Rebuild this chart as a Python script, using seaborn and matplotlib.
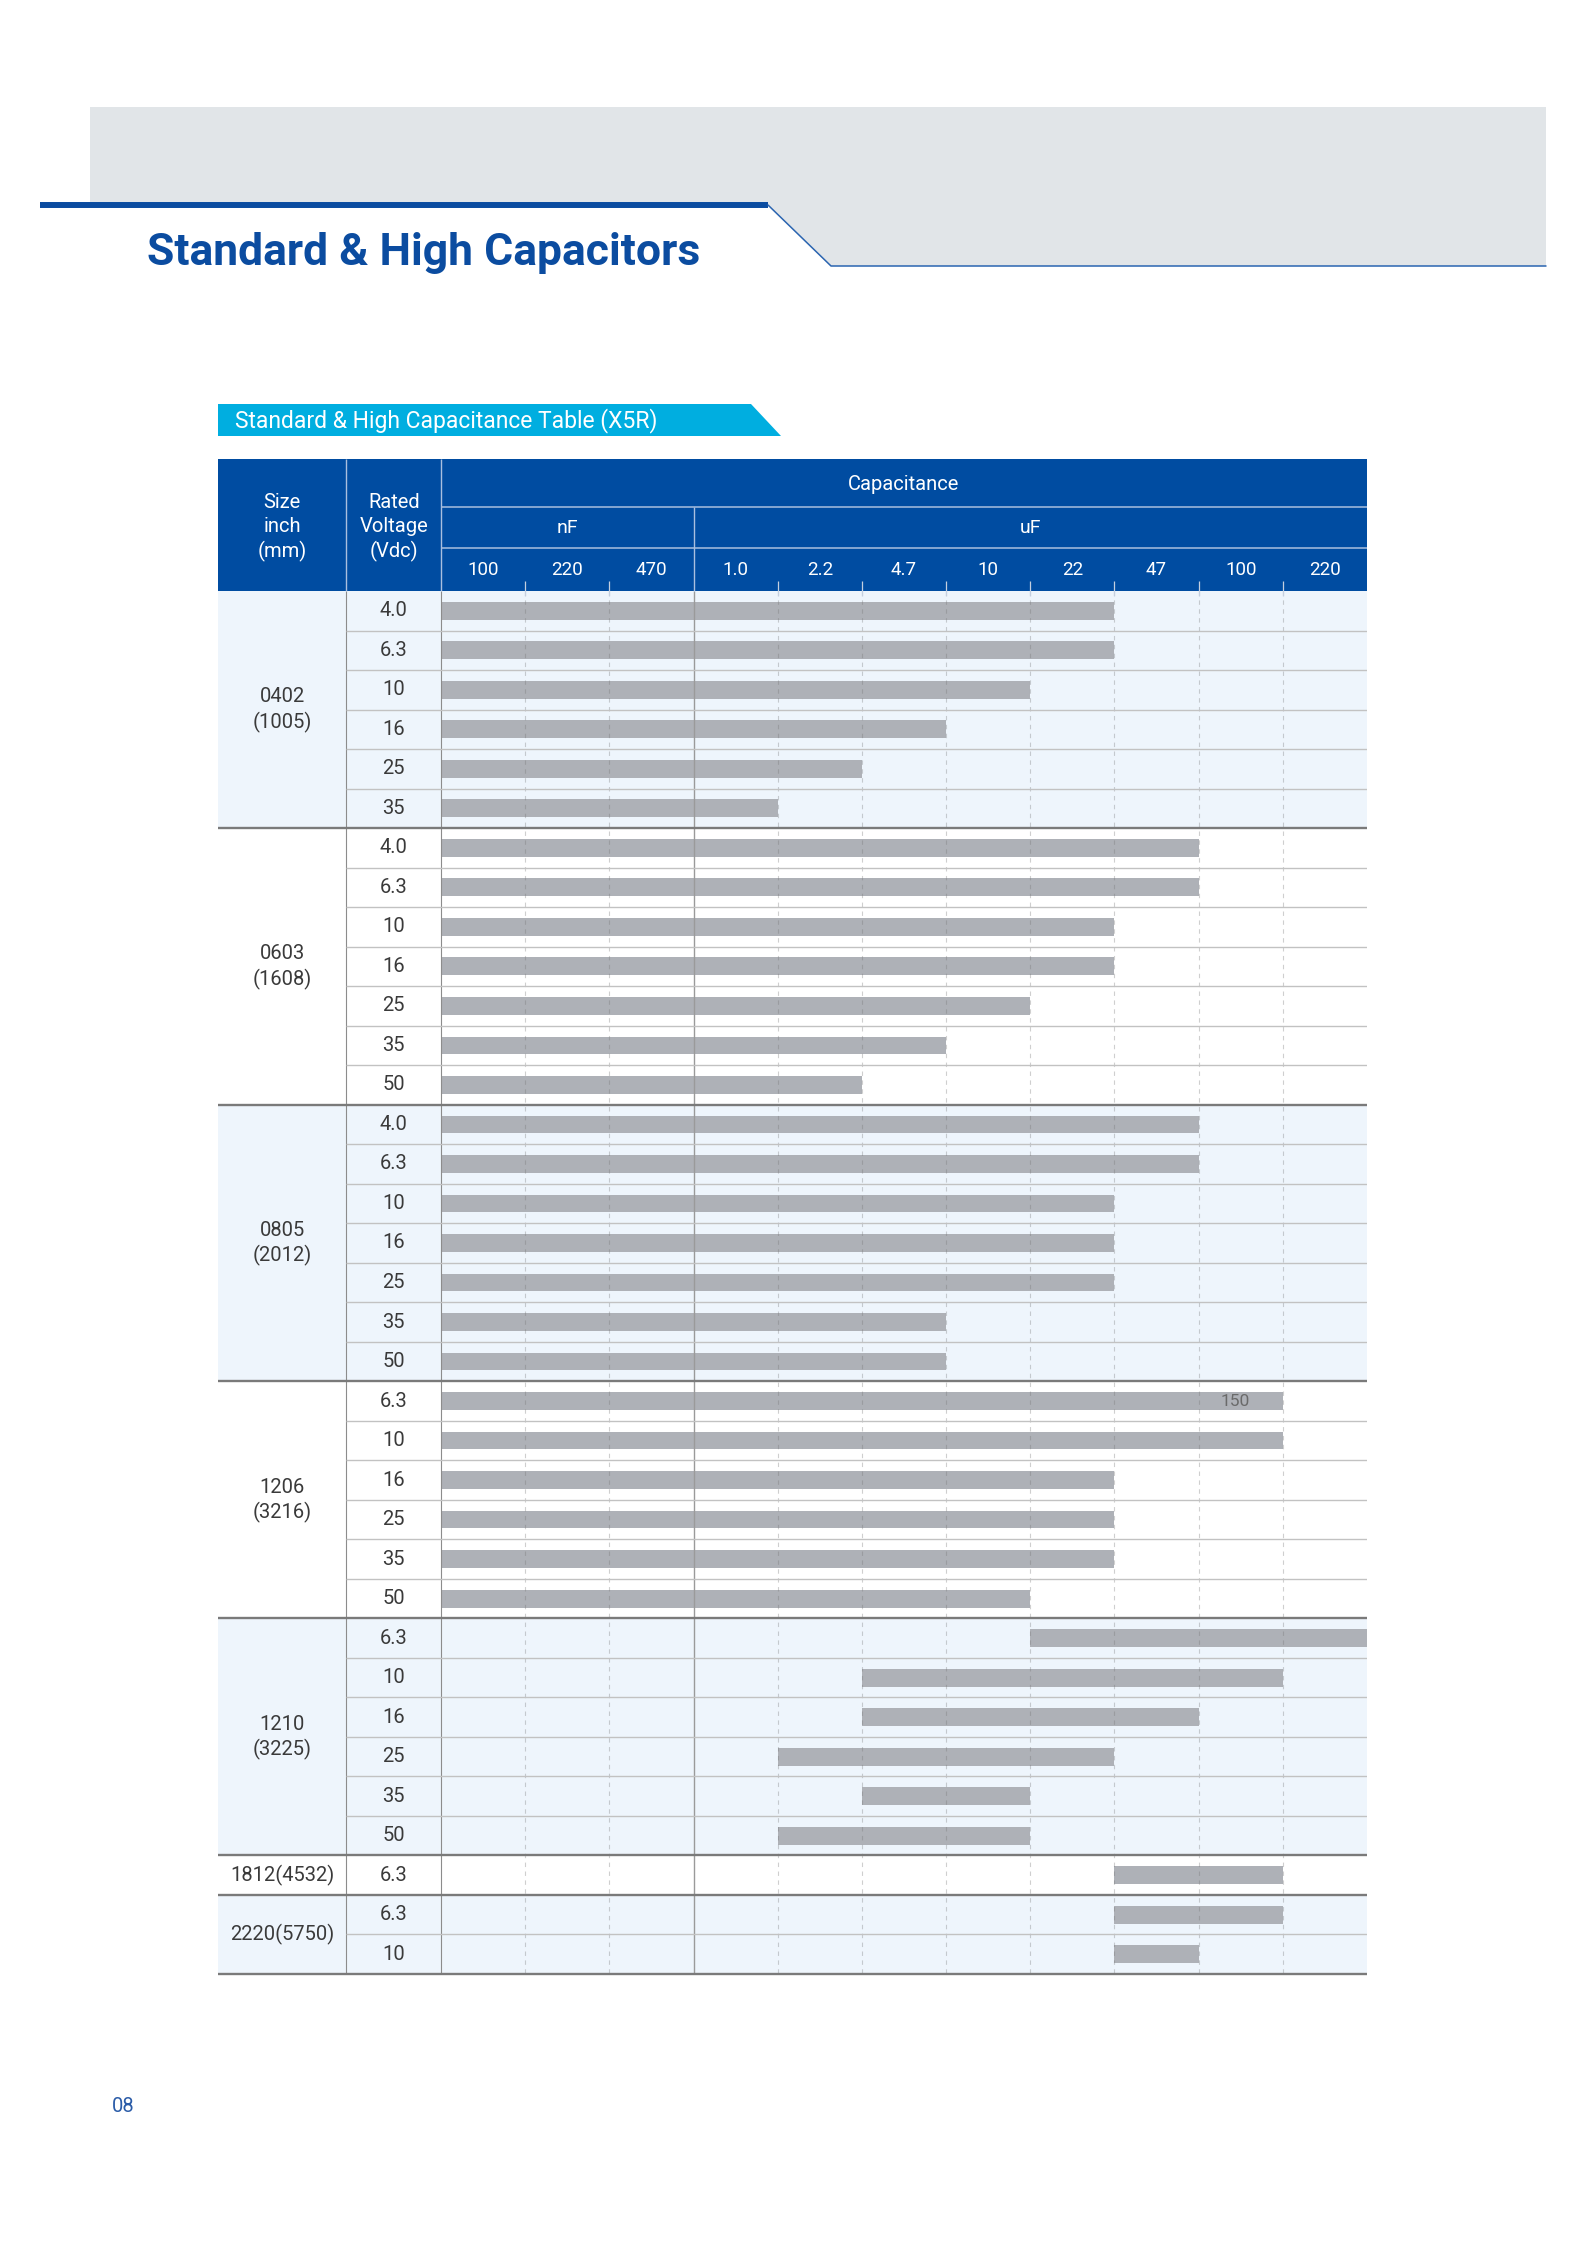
import numpy as np
import pandas as pd
import matplotlib
matplotlib.use("Agg")
import matplotlib.pyplot as plt
from matplotlib import font_manager
from matplotlib.patches import Polygon
import seaborn as sns

# ── data ─────────────────────────────────────────────────────────────────────
CAP_KEYS   = ["100n", "220n", "470n", "1.0u", "2.2u", "4.7u", "10u", "22u", "47u", "100u", "220u"]
CAP_LABELS = ["100", "220", "470", "1.0", "2.2", "4.7", "10", "22", "47", "100", "220"]
UNITS      = ["nF", "uF"]
UNIT_COLS  = [3, 8]

SIZE_LABELS = ["0402\n(1005)", "0603\n(1608)", "0805\n(2012)", "1206\n(3216)",
               "1210\n(3225)", "1812(4532)", "2220(5750)"]
VOLTAGES = [
    ["4.0", "6.3", "10", "16", "25", "35"],
    ["4.0", "6.3", "10", "16", "25", "35", "50"],
    ["4.0", "6.3", "10", "16", "25", "35", "50"],
    ["6.3", "10", "16", "25", "35", "50"],
    ["6.3", "10", "16", "25", "35", "50"],
    ["6.3"],
    ["6.3", "10"],
]
CAP_MIN = [
    ["100n"] * 6,
    ["100n"] * 7,
    ["100n"] * 7,
    ["100n"] * 6,
    ["22u", "4.7u", "4.7u", "2.2u", "4.7u", "2.2u"],
    ["47u"],
    ["47u", "47u"],
]
CAP_MAX = [
    ["22u", "22u", "10u", "4.7u", "2.2u", "1.0u"],
    ["47u", "47u", "22u", "22u", "10u", "4.7u", "2.2u"],
    ["47u", "47u", "22u", "22u", "22u", "4.7u", "4.7u"],
    ["100u", "100u", "22u", "22u", "22u", "10u"],
    ["220u", "100u", "47u", "22u", "10u", "10u"],
    ["100u"],
    ["100u", "47u"],
]
NOTE_SIZE, NOTE_VOLT, NOTE_TEXT = "1206\n(3216)", "6.3", "150"

# ── style ────────────────────────────────────────────────────────────────────
HEAD_BLUE  = "#004ca1"
TITLE_BLUE = "#0b4ca0"
CYAN       = "#00aee0"
BAND_GREY  = "#e1e5e8"
ROW_BG     = ["#eef5fc", "#ffffff"]
BAR_COLOR  = "#aeb1b7"
HEAD_LINE  = "#a9bfdf"
TXT        = "#3a3a3a"

sns.set_theme(style="white")
names = {f.name for f in font_manager.fontManager.ttflist}
FONT = "Liberation Sans Narrow" if "Liberation Sans Narrow" in names else "Roboto"
plt.rcParams["font.family"] = [FONT, "DejaVu Sans"]

W, H = 1586, 2245
TBL_L, SIZE_R, VOLT_R, TBL_R = 218, 346.5, 441, 1367
TBL_T, HEAD_R1, HEAD_R2, HEAD_B, TBL_B = 459, 507, 548, 591, 1974

# ── flatten rows ─────────────────────────────────────────────────────────────
rows = []
for g, (size, volts) in enumerate(zip(SIZE_LABELS, VOLTAGES)):
    for v, lo, hi in zip(volts, CAP_MIN[g], CAP_MAX[g]):
        rows.append({"group": g, "size": size, "volt": v,
                     "start": CAP_KEYS.index(lo), "end": CAP_KEYS.index(hi) + 1})
df = pd.DataFrame(rows)
df["row"] = np.arange(len(df)) + 0.5
df["span"] = df["end"] - df["start"]
n_rows = len(df)
n_cols = len(CAP_KEYS)

col_w = (TBL_R - VOLT_R) / n_cols
row_h = (TBL_B - HEAD_B) / n_rows
fx = lambda px: (px - VOLT_R) / col_w
fy = lambda py: (py - HEAD_B) / row_h

fig = plt.figure(figsize=(W / 100, H / 100), dpi=100)

# ── page decoration ──────────────────────────────────────────────────────────
bg = fig.add_axes([0, 0, 1, 1], zorder=0)
bg.set_xlim(0, W); bg.set_ylim(H, 0); bg.axis("off")
bg.add_patch(Polygon([(90, 107), (1546, 107), (1546, 266), (831, 266), (768, 205), (90, 205)],
                     closed=True, facecolor=BAND_GREY, edgecolor="none"))
bg.plot([40, 768], [205, 205], color=TITLE_BLUE, lw=4.3, solid_capstyle="butt")
bg.plot([768, 831, 1546], [205, 266, 266], color="#2a64b0", lw=1.1)
bg.text(147, 265, "Standard & High Capacitors", fontsize=32, fontweight="bold",
        color=TITLE_BLUE, va="baseline", ha="left")
bg.add_patch(Polygon([(218, 404), (751, 404), (781, 436), (218, 436)],
                     closed=True, facecolor=CYAN, edgecolor="none"))
bg.text(235, 421, "Standard & High Capacitance Table (X5R)", fontsize=16.5,
        color="white", va="center", ha="left")
bg.text(112, 2107, "08", fontsize=14.5, color="#2b5ca8", va="center", ha="left")

# ── table ────────────────────────────────────────────────────────────────────
ax = fig.add_axes([TBL_L / W, 1 - TBL_B / H, (TBL_R - TBL_L) / W, (TBL_B - TBL_T) / H],
                  zorder=1)

# group backgrounds and header band
bounds = [0] + list(np.cumsum([len(v) for v in VOLTAGES]))
for g in range(len(SIZE_LABELS)):
    ax.axhspan(bounds[g], bounds[g + 1], color=ROW_BG[g % 2], zorder=0, lw=0)
ax.axhspan(fy(TBL_T), 0, color=HEAD_BLUE, zorder=0, lw=0)

# bars
sns.barplot(data=df, x="span", y="row", orient="h", native_scale=True,
            left=df["start"].to_numpy(), width=0.45, color=BAR_COLOR, saturation=1,
            errorbar=None, linewidth=0, zorder=2, ax=ax)

# vertical grid
dashed = [i for i in range(1, n_cols) if i != UNIT_COLS[0]]
ax.vlines(dashed, 0, n_rows, colors="#757575", alpha=0.34, lw=0.8,
          linestyles=(0, (4, 4)), zorder=3)
ax.vlines(UNIT_COLS[0], 0, n_rows, colors="#9a9a9a", lw=1.0, zorder=3)
ax.vlines([fx(SIZE_R), 0], 0, n_rows, colors="#8c8c8c", lw=0.8, zorder=3)

# horizontal rules
inner = [r for r in range(1, n_rows) if r not in bounds]
ax.hlines(inner, fx(SIZE_R), n_cols, colors="#c2c2c2", lw=1.0, zorder=3)
ax.hlines(bounds[1:], fx(TBL_L), n_cols, colors="#7a7a7a", lw=1.7, zorder=3, clip_on=False)

# header lines and ticks
ax.vlines([fx(SIZE_R), 0], fy(TBL_T), 0, colors=HEAD_LINE, lw=1.0, zorder=3)
ax.hlines([fy(HEAD_R1), fy(HEAD_R2)], 0, n_cols, colors=HEAD_LINE, lw=1.1, zorder=3)
ax.vlines(UNIT_COLS[0], fy(HEAD_R1), 0, colors=HEAD_LINE, lw=1.0, zorder=3)
ax.vlines(dashed, -0.25, 0.12, colors="#c4cfdf", lw=0.9, zorder=3)

# header text
hk = dict(color="white", ha="center", va="center", zorder=4)
for i, line in enumerate(["Size", "inch", "(mm)"]):
    ax.text(fx((TBL_L + SIZE_R) / 2), fy(502 + 24.5 * i), line, fontsize=14.5, **hk)
for i, line in enumerate(["Rated", "Voltage", "(Vdc)"]):
    ax.text(fx((SIZE_R + VOLT_R) / 2), fy(502 + 24.5 * i), line, fontsize=14.5, **hk)
ax.text(n_cols / 2, fy(484), "Capacitance", fontsize=14.5, **hk)
x0 = 0
for unit, k in zip(UNITS, UNIT_COLS):
    ax.text(x0 + k / 2, fy(528), unit, fontsize=14, **hk)
    x0 += k
for i, lab in enumerate(CAP_LABELS):
    ax.text(i + 0.5, fy(570), lab, fontsize=13.5, **hk)

# body text
for _, r in df.iterrows():
    ax.text(fx((SIZE_R + VOLT_R) / 2), r["row"], r["volt"], fontsize=14.5,
            color=TXT, ha="center", va="center", zorder=4)
    if r["size"] == NOTE_SIZE and r["volt"] == NOTE_VOLT:
        ax.text(r["end"] - 0.56, r["row"], NOTE_TEXT, fontsize=12.5,
                color="#6a6a6a", ha="center", va="center", zorder=4)

line_gap = 25.5 / row_h
for g, size in enumerate(SIZE_LABELS):
    mid = (bounds[g] + bounds[g + 1]) / 2
    parts = size.split("\n")
    for i, p in enumerate(parts):
        ax.text(fx((TBL_L + SIZE_R) / 2), mid + (i - (len(parts) - 1) / 2) * line_gap, p,
                fontsize=14.5, color=TXT, ha="center", va="center", zorder=4)

ax.set_xlim(fx(TBL_L), n_cols)
ax.set_ylim(n_rows, fy(TBL_T))
ax.set_axis_off()

fig.savefig("out.png", dpi=100)
plt.close(fig)
